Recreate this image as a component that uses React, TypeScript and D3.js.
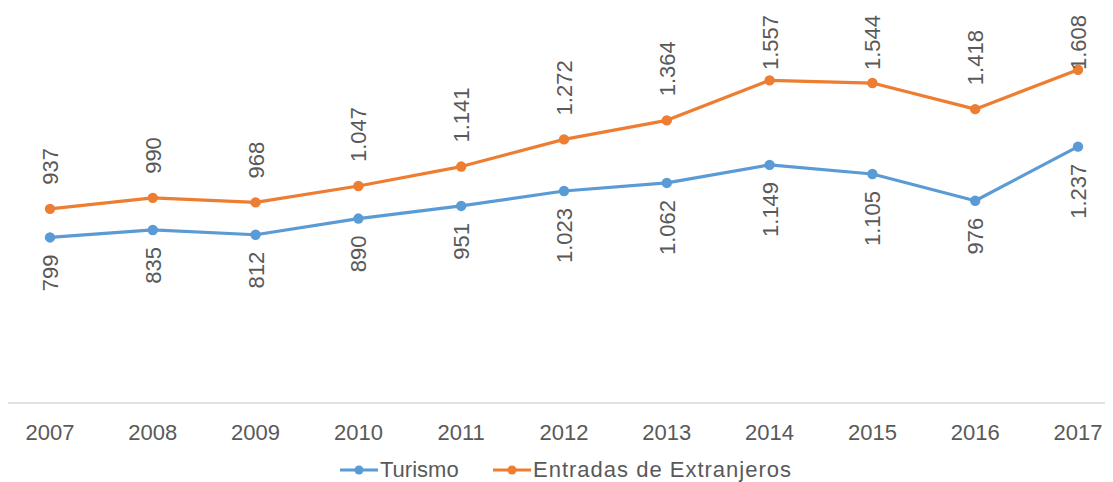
import React, { useEffect, useRef } from "react";
import * as d3 from "d3";

const years = ["2007", "2008", "2009", "2010", "2011", "2012", "2013", "2014", "2015", "2016", "2017"];
const turismo = [799, 835, 812, 890, 951, 1023, 1062, 1149, 1105, 976, 1237];
const entradas = [937, 990, 968, 1047, 1141, 1272, 1364, 1557, 1544, 1418, 1608];
const seriesNames = ["Turismo", "Entradas de Extranjeros"];
const seriesColors = ["#5B9BD5", "#ED7D31"];

const W = 1113;
const H = 482;
const FONT = "'Liberation Sans', Arial, sans-serif";
const TEXT = "#595959";

const locale = d3.formatLocale({ decimal: ",", thousands: ".", grouping: [3], currency: ["", "€"] });
const fmt = locale.format(",d");

export default function App() {
  const ref = useRef<SVGSVGElement | null>(null);

  useEffect(() => {
    const svg = d3.select(ref.current);
    svg.selectAll("*").remove();

    const x = d3.scalePoint<string>().domain(years).range([50, 1078]);
    const y = d3.scaleLinear().domain([0, 1800]).range([403, 30]);

    // axis line
    svg.append("line")
      .attr("x1", 8).attr("x2", 1105)
      .attr("y1", y(0)).attr("y2", y(0))
      .attr("stroke", "#D9D9D9").attr("stroke-width", 1.3);

    // tick labels
    svg.append("g").selectAll("text").data(years).join("text")
      .attr("x", (d) => x(d)!)
      .attr("y", 440)
      .attr("text-anchor", "middle")
      .attr("font-family", FONT)
      .attr("font-size", 22)
      .attr("fill", TEXT)
      .text((d) => d);

    const all = [turismo, entradas];
    const line = d3.line<number>().x((_, i) => x(years[i])!).y((d) => y(d));

    all.forEach((vals, si) => {
      const g = svg.append("g");
      g.append("path")
        .attr("d", line(vals)!)
        .attr("fill", "none")
        .attr("stroke", seriesColors[si])
        .attr("stroke-width", 3.2)
        .attr("stroke-linejoin", "round");
      g.selectAll("circle").data(vals).join("circle")
        .attr("cx", (_, i) => x(years[i])!)
        .attr("cy", (d) => y(d))
        .attr("r", 5.2)
        .attr("fill", seriesColors[si]);
    });

    // data labels
    const lg = svg.append("g");
    all.forEach((vals, si) => {
      vals.forEach((v, i) => {
        const px = x(years[i])!;
        const py = y(v);
        const t = lg.append("text")
          .attr("font-family", FONT)
          .attr("font-size", 22)
          .attr("fill", TEXT)
          .attr("dy", "0.36em")
          .text(fmt(v));
        const len = (t.node() as SVGTextElement).getComputedTextLength();
        if (si === 0) {
          const yEnd = py + 17;
          t.attr("text-anchor", "end")
            .attr("transform", `translate(${px},${yEnd}) rotate(-90)`);
        } else {
          let yStart = py - 24;
          if (yStart - len < 15) yStart = 15 + len;
          t.attr("text-anchor", "start")
            .attr("transform", `translate(${px},${yStart}) rotate(-90)`);
        }
      });
    });

    // legend
    const legendX = [340, 493];
    const ly = 470;
    seriesNames.forEach((name, si) => {
      const lx = legendX[si];
      svg.append("line")
        .attr("x1", lx).attr("x2", lx + 38)
        .attr("y1", ly).attr("y2", ly)
        .attr("stroke", seriesColors[si]).attr("stroke-width", 3.2);
      svg.append("circle")
        .attr("cx", lx + 19).attr("cy", ly).attr("r", 4.5)
        .attr("fill", seriesColors[si]);
      svg.append("text")
        .attr("x", lx + 40).attr("y", ly + 7)
        .attr("font-family", FONT)
        .attr("font-size", 22)
        .attr("letter-spacing", si === 1 ? 1 : 0)
        .attr("fill", TEXT)
        .text(name);
    });
  }, []);

  return (
    <div style={{ position: "absolute", left: 0, top: 0 }}>
      <svg ref={ref} width={W} height={H} style={{ display: "block", background: "#fff" }} />
    </div>
  );
}
